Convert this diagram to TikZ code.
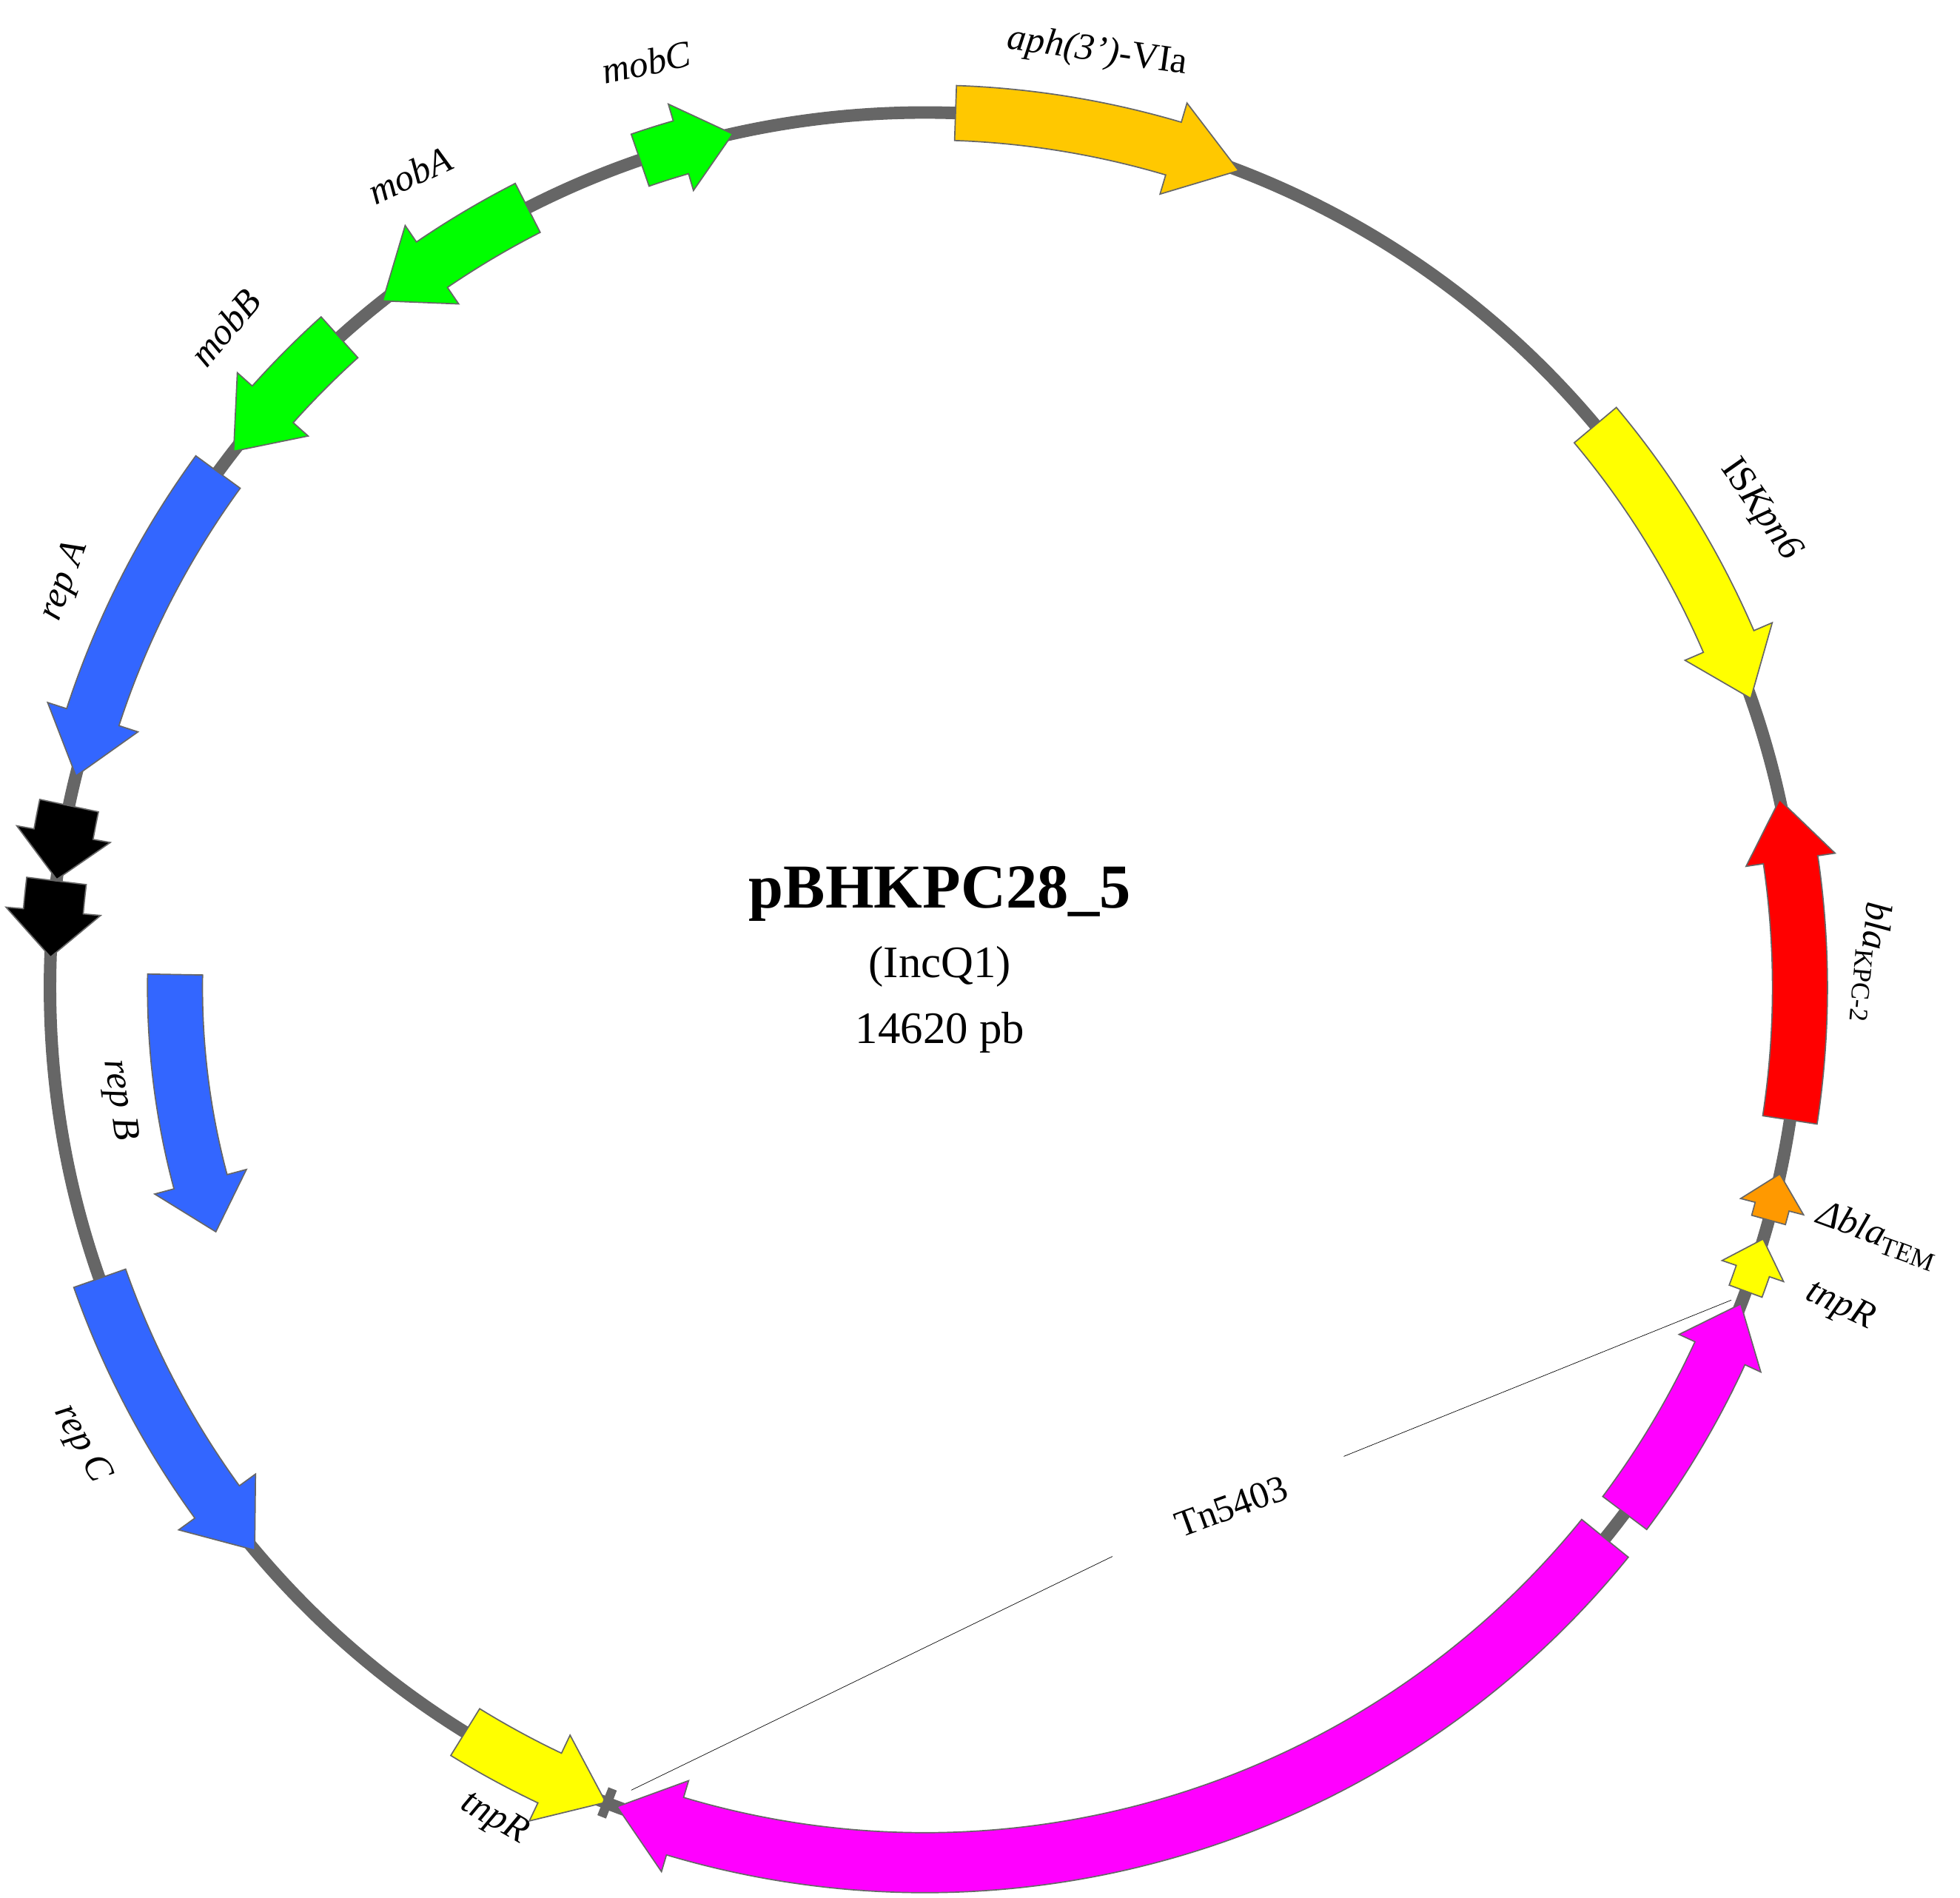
\documentclass[tikz,border=0pt]{standalone}
\usepackage{fontspec}
\setmainfont{Liberation Serif}
\definecolor{cAph}{HTML}{FFC800}
\definecolor{cYel}{HTML}{FFFF00}
\definecolor{cRed}{HTML}{FF0000}
\definecolor{cOra}{HTML}{FF9900}
\definecolor{cMag}{HTML}{FF00FF}
\definecolor{cBlu}{HTML}{3366FF}
\definecolor{cGrn}{HTML}{00FF00}
\newcommand\gene[7]{%
\pgfmathsetmacro\gs{(#2>#1)*2-1}%
\pgfmathsetmacro\gm{#2-\gs*#6}%
\draw[genestyle, fill=#7] (#1:{#3+#4}) arc[start angle=#1, end angle=\gm, radius={#3+#4}] -- (\gm:{#3+#5}) -- (#2:#3) -- (\gm:{#3-#5}) -- (\gm:{#3-#4}) arc[start angle=\gm, end angle=#1, radius={#3-#4}] -- cycle;}
\begin{document}
\begin{tikzpicture}[x=1pt,y=1pt,
  genestyle/.style={draw=black!60, line width=1pt},
  lab/.style={font=\fontsize{30}{32}\selectfont\itshape}]
\useasboundingbox (-740,-728) rectangle (828,790);
\draw[line width=10pt, black!60] (0,0) circle[radius=700];
\gene{88}{69}{700}{22}{38}{4.5}{cAph}
\gene{40}{19.3}{700}{22}{38}{4}{cYel}
\gene{-8.7}{12.4}{700}{22}{36}{4}{cRed}
\gene{-15.4}{-12.3}{700}{14}{26}{2.2}{cOra}
\gene{-20.3}{-16.7}{700}{14}{26}{2.2}{cYel}
\gene{-36.9}{-21.2}{700}{22}{36}{3.5}{cMag}
\gene{-39}{-110.6}{700}{24}{38}{4}{cMag}
\gene{-121.7}{-111.4}{700}{22}{38}{4}{cYel}
\gene{199.4}{220}{700}{22}{38}{4}{cBlu}
\gene{179}{199}{600}{22}{38}{4}{cBlu}
\gene{168}{172.9}{700}{24}{38}{3}{black}
\gene{173}{178}{700}{24}{38}{3}{black}
\gene{143.9}{166}{700}{22}{38}{4}{cBlu}
\gene{132}{142.2}{700}{22}{38}{4}{cGrn}
\gene{117}{128.3}{700}{22}{38}{4}{cGrn}
\gene{109}{102.7}{700}{22}{36}{3.5}{cGrn}
\fill[black!60] (-111.6:688) -- (-111.6:712) -- (-111.0:712) -- (-111.0:688) -- cycle;
\coordinate (t1) at (645,-250);
\coordinate (t2) at (335,-375);
\coordinate (t3) at (150,-455);
\coordinate (t4) at (-235,-642);
\draw[thin] (t1) -- (t2);
\draw[thin] (t3) -- (t4);
\node[lab, font=\fontsize{30}{32}\selectfont\upshape, rotate=20] (tn) at (245,-415) {Tn5403};
\node[font=\fontsize{50}{54}\selectfont\bfseries] (title) at (12,75) {pBHKPC28\_5};
\node[font=\fontsize{36}{38}\selectfont] (inc) at (12,17) {(IncQ1)};
\node[font=\fontsize{36}{38}\selectfont] (size) at (12,-36) {14620 pb};
\node[lab, rotate=-8] (l1) at (138,748) {aph(3')\upshape-VIa};
\node[lab, rotate=12] (l2) at (-223,740) {mobC};
\node[lab, rotate=25] (l3) at (-412,650) {mobA};
\node[lab, rotate=50] (l4) at (-560,528) {mobB};
\node[lab, rotate=70] (l5) at (-688,325) {rep A};
\node[lab, rotate=-55, font=\fontsize{30}{32}\selectfont\upshape] (l6) at (668,382) {IS\itshape Kpn6};
\node[lab, rotate=-95] (l7) at (757,20) {bla\textsubscript{\upshape KPC-2}};
\node[lab, rotate=-20] (l8) at (762,-198) {Δbla\textsubscript{\upshape TEM}};
\node[lab, rotate=-25] (l9) at (732,-255) {tnpR};
\node[lab, rotate=-82] (l10) at (-645,-90) {rep B};
\node[lab, rotate=-62] (l11) at (-675,-365) {rep C};
\node[lab, rotate=-30] (l12) at (-345,-665) {tnpR};
\end{tikzpicture}
\end{document}
